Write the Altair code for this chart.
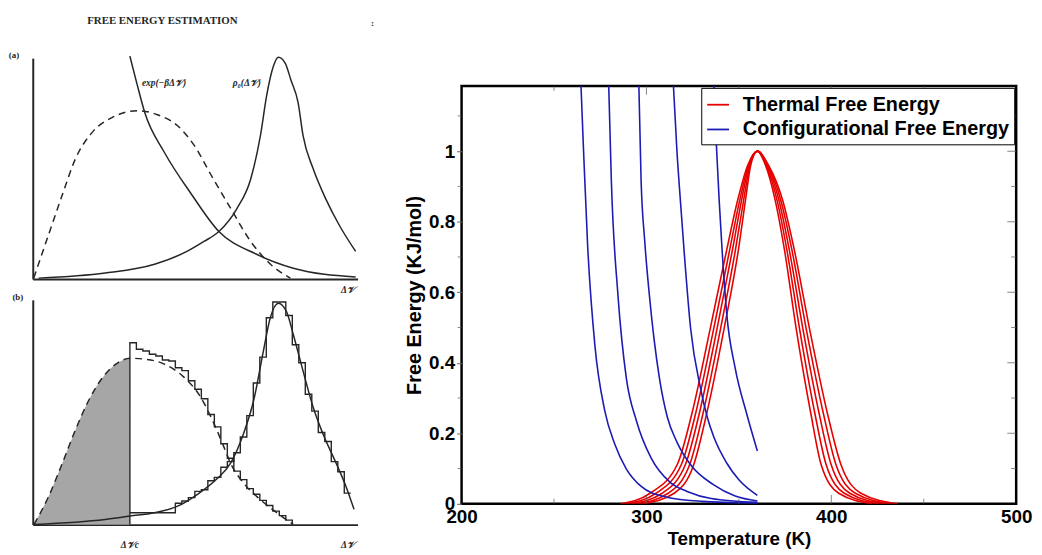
import altair as alt
import pandas as pd

SANS = "Liberation Sans, Arial, sans-serif"
SERIF = "Liberation Serif, DejaVu Serif, serif"
INK = "#262626"
RED = "#e60000"
BLUE = "#1c1cb4"

# ---------------- left figure, panel (a) (arbitrary units 0..100) ----------------
a_exp_x = [29.9, 32.0, 34.5, 40.5, 48.8, 57.3, 68.9, 80.2, 99.4]
a_exp_y = [100.9, 88.8, 75.3, 57.4, 38.5, 21.5, 11.2, 4.9, 0.9]
a_rho_x = [1.8, 22.3, 37.5, 47.6, 52.7, 57.3, 62.8, 67.1, 70.1, 72.0, 74.1, 75.6,
           77.7, 79.5, 81.7, 83.2, 86.3, 90.2, 94.5, 99.4]
a_rho_y = [0.4, 2.7, 6.7, 12.6, 17.0, 21.5, 31.8, 45.3, 65.0, 83.0, 96.4, 100.4,
           97.8, 90.0, 79.8, 65.0, 50.0, 36.3, 24.0, 12.5]
a_dash_x = [0.3, 4.9, 9.1, 13.1, 18.3, 24.4, 32.3, 38.4, 44.5, 49.7, 54.9, 61.0, 67.1, 73.2, 79.3]
a_dash_y = [0.4, 20.2, 38.1, 54.3, 66.4, 73.1, 76.2, 74.4, 69.5, 60.5, 47.1, 31.8, 17.0, 6.7, 0.4]

# ---------------- panel (b) ----------------
b_rho0_x = [0.4, 22.3, 29.9, 37.5, 44.6, 50.7, 56.8, 60.9, 64.9, 68.0, 71.0, 73.1, 75.6,
            78.1, 80.2, 83.2, 86.3, 89.3, 93.4, 96.4, 98.9]
b_rho0_y = [0.1, 2.3, 3.8, 5.3, 8.2, 13.5, 20.5, 27.3, 40.5, 55.2, 77.2, 91.9, 98.5,
            94.8, 84.6, 68.4, 52.3, 40.5, 27.3, 17.1, 6.8]
b_rho1_x = [0.4, 4.9, 9.1, 13.1, 17.2, 22.3, 26.3, 29.9, 34.5, 40.5, 46.6, 51.7, 55.8,
            58.8, 60.9, 64.9, 70.0, 75.1, 80.2]
b_rho1_y = [0.1, 12.6, 27.3, 42.0, 55.2, 66.9, 72.1, 74.0, 73.6, 71.4, 65.5, 56.7, 44.9,
            34.7, 27.3, 18.5, 11.2, 5.3, 0.1]
cut_x = 29.9
bin_w = 2.0
hist1 = [80.9, 78.0, 77.2, 75.8, 75.0, 73.2, 72.8, 69.8, 68.5, 64.0, 60.2, 56.0, 49.0,
         43.5, 36.0, 29.5, 23.8, 20.0, 16.0, 13.5, 10.8, 8.5, 6.0, 4.0, 2.0]
hist0 = [5.3, 5.3, 5.3, 5.3, 5.3, 5.3, 5.3, 9.5, 10.5, 12.0, 14.8, 15.5, 19.5, 21.0,
         25.5, 28.0, 32.0, 39.0, 48.5, 63.0, 74.5, 92.0, 99.0, 99.0, 93.0, 80.0, 72.0,
         58.0, 50.5, 41.0, 37.0, 28.0, 23.5, 14.0]

# ---------------- right chart ----------------
lev_left = [0.0, 0.03, 0.113, 0.254, 0.497, 0.722, 0.862, 0.96]
peak_T, peak_F = 360.0, 1.0
lev_right = [0.96, 0.862, 0.722, 0.497, 0.254, 0.113, 0.03, 0.0]
thermal_left = [
    [298.0, 315.0, 325.7, 332.5, 342.0, 349.8, 353.6, 356.4],
    [295.0, 311.8, 323.5, 330.5, 340.1, 348.2, 352.6, 356.0],
    [292.0, 308.5, 321.2, 328.5, 338.2, 346.6, 351.5, 355.6],
    [289.0, 305.2, 319.0, 326.5, 336.4, 345.1, 350.5, 355.2],
    [286.0, 302.0, 316.8, 324.5, 334.5, 343.5, 349.4, 354.8],
]
thermal_right = [
    [364.4, 369.6, 374.6, 381.0, 389.0, 394.4, 404.0, 422.0],
    [364.8, 370.6, 375.9, 382.8, 391.2, 397.1, 407.0, 425.5],
    [365.2, 371.6, 377.2, 384.6, 393.5, 399.8, 410.0, 429.0],
    [365.6, 372.6, 378.6, 386.4, 395.8, 402.4, 413.0, 432.5],
    [366.0, 373.6, 379.9, 388.2, 398.0, 405.1, 416.0, 436.0],
]
conf_T = [
    [264.6, 265.9, 268.2, 272.1, 277.5, 282.9, 289.0, 297.0, 310.0, 330.0, 360.0],
    [279.6, 281.0, 284.6, 289.1, 294.6, 302.5, 313.0, 322.0, 335.0, 360.0],
    [295.9, 297.1, 299.0, 301.6, 307.0, 311.4, 316.5, 324.0, 336.0, 348.0, 360.0],
    [314.6, 316.5, 318.5, 320.3, 323.9, 329.2, 333.0, 336.4, 343.5, 350.0, 360.0],
    [336.5, 338.0, 340.9, 343.5, 348.0, 354.3, 360.0],
]
conf_F = [
    [1.185, 1.012, 0.731, 0.450, 0.263, 0.169, 0.100, 0.050, 0.020, 0.007, 0.002],
    [1.185, 0.918, 0.591, 0.357, 0.235, 0.130, 0.060, 0.035, 0.015, 0.004],
    [1.185, 0.918, 0.750, 0.591, 0.357, 0.244, 0.175, 0.110, 0.055, 0.022, 0.008],
    [1.185, 1.000, 0.850, 0.722, 0.497, 0.329, 0.244, 0.190, 0.115, 0.068, 0.024],
    [1.185, 1.000, 0.722, 0.535, 0.385, 0.254, 0.150],
]
x_major_ticks = [300, 400]
x_minor_ticks = [250, 350, 450]
y_major_ticks = [0.2, 0.4, 0.6, 0.8, 1.0]
y_minor_ticks = [0.1, 0.3, 0.5, 0.7, 0.9, 1.1]
y_labels = [0, 0.2, 0.4, 0.6, 0.8, 1]
x_labels = [200, 300, 400, 500]
T_dom = [200, 500]
F_dom = [0, 1.185]
SERIES = ["Thermal Free Energy", "Configurational Free Energy"]

# ---------------- build tables ----------------
def curve_df(xs, ys):
    return pd.DataFrame({"x": xs, "y": ys, "i": list(range(len(xs)))})

def hist_df(heights, start, close_to_base):
    xs, ys = [], []
    if close_to_base:
        xs.append(start); ys.append(0.0)
    for k, h in enumerate(heights):
        xs.append(start + k * bin_w); ys.append(h)
    end = start + len(heights) * bin_w
    xs.append(end); ys.append(0.0 if close_to_base else heights[-1])
    return curve_df(xs, ys)

rows = []
for c in range(5):
    pts = list(zip(thermal_left[c], lev_left)) + [(peak_T, peak_F)] + list(zip(thermal_right[c], lev_right))
    for t, f in pts:
        rows.append({"T": t, "F": f, "curve": f"t{c}", "kind": SERIES[0]})
for c in range(5):
    for t, f in zip(conf_T[c], conf_F[c]):
        rows.append({"T": t, "F": f, "curve": f"c{c}", "kind": SERIES[1]})
df_r = pd.DataFrame(rows)

# ---------------- left panels ----------------
def bare_axis():
    return alt.Axis(domain=True, domainColor=INK, domainWidth=2, ticks=False,
                    labels=False, grid=False, title=None)

def xe():
    return alt.X("x:Q", scale=alt.Scale(domain=[0, 100], nice=False, zero=False), axis=bare_axis())

def ye():
    return alt.Y("y:Q", scale=alt.Scale(domain=[0, 100], nice=False, zero=False), axis=bare_axis())

def solid(df):
    return alt.Chart(df).mark_line(color=INK, strokeWidth=1.5, interpolate="monotone").encode(
        x=xe(), y=ye(), order="i:Q")

def dashed(df):
    return alt.Chart(df).mark_line(color=INK, strokeWidth=1.5, strokeDash=[7, 5],
                                   interpolate="monotone").encode(x=xe(), y=ye(), order="i:Q")

def step(df):
    return alt.Chart(df).mark_line(color=INK, strokeWidth=1.4, interpolate="step-after").encode(
        x=xe(), y=ye(), order="i:Q")

def labels(df, size, style="normal", weight="bold"):
    return alt.Chart(df).mark_text(font=SERIF, fontSize=size, fontStyle=style, fontWeight=weight,
                                   color=INK).encode(x=xe(), y=ye(), text="t:N")

a_title = pd.DataFrame({"x": [39.9], "y": [117.0], "t": ["FREE ENERGY ESTIMATION"]})
a_labels_plain = pd.DataFrame({"x": [-5.8, 104.6], "y": [101.3, 115.7], "t": ["(a)", ":"]})
a_labels_math = pd.DataFrame({"x": [40.4, 65.9], "y": [88.8, 88.8],
                              "t": ["exp(\u2212\u03b2\u0394\U0001D4B1)", "\u03c1\u2080(\u0394\U0001D4B1)"]})

panel_a = alt.layer(
    dashed(curve_df(a_dash_x, a_dash_y)),
    solid(curve_df(a_exp_x, a_exp_y)),
    solid(curve_df(a_rho_x, a_rho_y)),
    labels(a_title, 11),
    labels(a_labels_plain, 9),
    labels(a_labels_math, 9.5, style="italic"),
).properties(width=328, height=223)

shade_n = sum(1 for v in b_rho1_x if v <= cut_x)
shade_df = curve_df(b_rho1_x[:shade_n], b_rho1_y[:shade_n])

b_labels_plain = pd.DataFrame({"x": [-4.6], "y": [101.3], "t": ["(b)"]})
b_labels_math = pd.DataFrame({"x": [97.0, 29.9, 97.0], "y": [104.4, -9.3, -9.3],
                              "t": ["\u0394\U0001D4B1", "\u0394\U0001D4B1c", "\u0394\U0001D4B1"]})

panel_b = alt.layer(
    alt.Chart(shade_df).mark_area(color="#a6a6a6", interpolate="monotone").encode(
        x=xe(), y=ye()),
    dashed(curve_df(b_rho1_x, b_rho1_y)),
    solid(curve_df(b_rho0_x, b_rho0_y)),
    step(hist_df(hist1, cut_x, True)),
    step(hist_df(hist0, cut_x, False)),
    labels(b_labels_plain, 9),
    labels(b_labels_math, 9.5, style="italic"),
).properties(width=328, height=227)

left = alt.vconcat(panel_a, panel_b, spacing=3)

# ---------------- right chart ----------------
Tsc = alt.Scale(domain=T_dom, nice=False, zero=False)
Fsc = alt.Scale(domain=F_dom, nice=False, zero=False)

lines = alt.Chart(df_r).mark_line(strokeWidth=1.6, clip=True, interpolate="monotone").encode(
    x=alt.X("T:Q", scale=Tsc, title="Temperature (K)",
            axis=alt.Axis(values=x_labels, ticks=False, domain=False, grid=False,
                          labelFont=SANS, labelFontSize=19, labelFontWeight="bold",
                          labelColor="black", labelPadding=4, labelFlush=False,
                          titleFont=SANS, titleFontSize=19, titleFontWeight="bold",
                          titleColor="black", titlePadding=3)),
    y=alt.Y("F:Q", scale=Fsc, title="Free Energy (KJ/mol)",
            axis=alt.Axis(values=y_labels, format="~g", ticks=True, tickSize=5, tickColor="#666",
                          tickWidth=1, domain=False, grid=False,
                          labelFont=SANS, labelFontSize=19, labelFontWeight="bold",
                          labelColor="black", labelPadding=2, labelFlush=False,
                          titleFont=SANS, titleFontSize=20, titleFontWeight="bold",
                          titleColor="black", titlePadding=4)),
    color=alt.Color("kind:N", scale=alt.Scale(domain=SERIES, range=[RED, BLUE]),
                    legend=alt.Legend(title=None, orient="top-right", offset=2,
                                      fillColor="white", strokeColor="black", padding=5,
                                      symbolType="stroke", symbolSize=484, symbolStrokeWidth=1.8,
                                      labelFont=SANS, labelFontSize=20, labelFontWeight="bold",
                                      labelColor="black", labelOffset=13, labelLimit=500,
                                      rowPadding=3)),
    detail="curve:N",
)

def xticks(vals, at, size):
    return alt.Chart(pd.DataFrame({"T": vals})).mark_tick(
        orient="vertical", size=size, thickness=1, color="#555", clip=True
    ).encode(x=alt.X("T:Q", scale=Tsc), y=alt.datum(at))

def yticks(vals, at, size, clip=True, xoff=0):
    return alt.Chart(pd.DataFrame({"F": vals})).mark_tick(
        orient="horizontal", size=size, thickness=1, color="#555", clip=clip, xOffset=xoff
    ).encode(y=alt.Y("F:Q", scale=Fsc), x=alt.datum(at))

right_plot = alt.layer(
    lines,
    xticks(x_major_ticks, F_dom[0], 18), xticks(x_minor_ticks, F_dom[0], 10),
    xticks(x_major_ticks, F_dom[1], 18), xticks(x_minor_ticks, F_dom[1], 10),
    yticks(y_major_ticks, T_dom[1], 18), yticks(y_minor_ticks, T_dom[1], 10),
    yticks(y_minor_ticks, T_dom[0], 4, clip=False, xoff=-2),
).properties(
    width=560, height=422,
    view=alt.ViewBackground(stroke="black", strokeWidth=2.5),
)

# empty band above the right plot (white space of the reference)
spacer = alt.Chart(pd.DataFrame({"s": [0]})).mark_point(opacity=0, size=1).encode(
    x=alt.value(280), y=alt.value(13)
).properties(width=560, height=26)

right = alt.vconcat(spacer, right_plot, spacing=0).resolve_scale(
    color="independent"
).resolve_legend(color="independent")

chart = alt.hconcat(left, right, spacing=29).resolve_scale(
    color="independent"
).resolve_legend(
    color="independent"
).properties(
    padding={"left": 0, "top": 4, "right": 0, "bottom": 0},
    background="white",
).configure_view(strokeWidth=0)

chart.save("out.html", embed_options={"renderer": "svg", "actions": False})
